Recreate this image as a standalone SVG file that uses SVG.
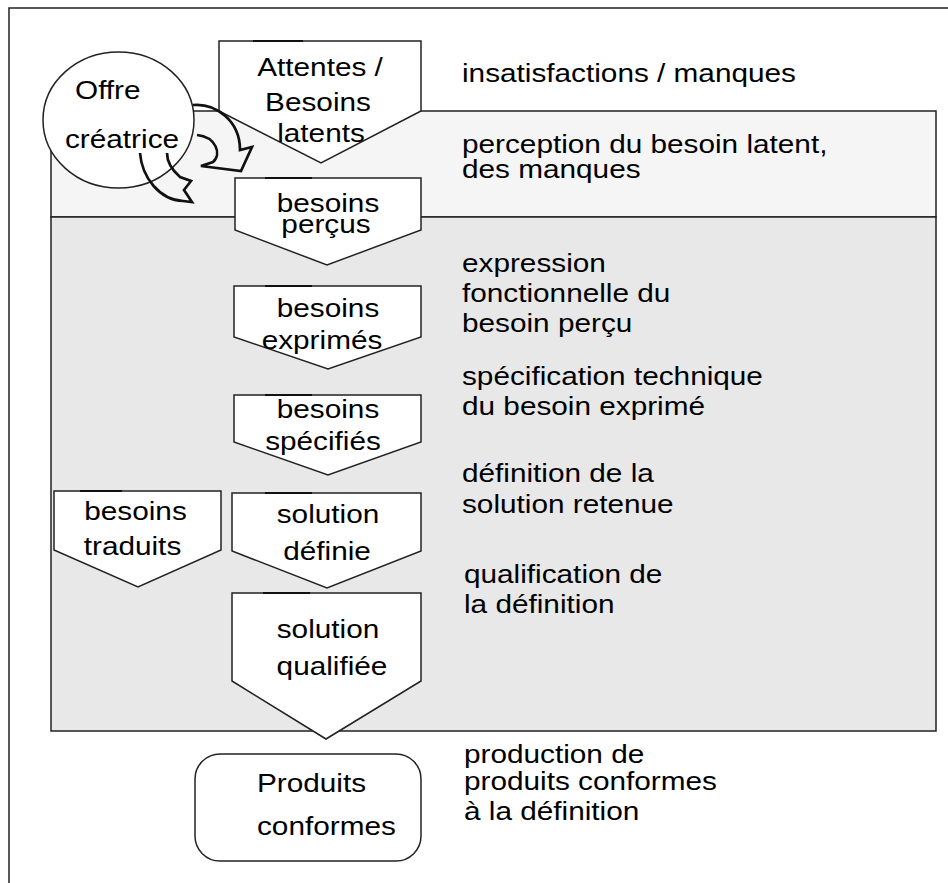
<svg xmlns="http://www.w3.org/2000/svg" width="948" height="883" viewBox="0 0 948 883">
<style>
.frame{fill:#fff;stroke:#222;stroke-width:1.5}
.band1{fill:#f5f5f5;stroke:#222;stroke-width:1.5}
.band2{fill:#e8e8e8;stroke:#222;stroke-width:1.5}
.node{fill:#fff;stroke:#222;stroke-width:1.5;stroke-linejoin:miter}
.tick{stroke:#111;stroke-width:2.2}
.arrow{fill:none;stroke:#111;stroke-width:2.7;stroke-linejoin:miter}
text{font-family:"Liberation Sans",Arial,Helvetica,sans-serif;font-size:25px;fill:#000}
.c{text-anchor:middle}
</style>
<rect class="frame" x="9" y="8" width="960" height="900"/>
<g id="bands">
<rect class="band1" x="51" y="111" width="885" height="106"/>
<rect class="band2" x="51" y="217" width="885" height="514"/>
</g>
<g id="labels">
<text transform="matrix(1.19 0 0 1 462 82)">insatisfactions / manques</text>
<text transform="matrix(1.19 0 0 1 462 153)">perception du besoin latent,</text>
<text transform="matrix(1.19 0 0 1 462 178)">des manques</text>
<text transform="matrix(1.19 0 0 1 462 272)">expression</text>
<text transform="matrix(1.19 0 0 1 462 302)">fonctionnelle du</text>
<text transform="matrix(1.19 0 0 1 462 332)">besoin perçu</text>
<text transform="matrix(1.19 0 0 1 462 385)">spécification technique</text>
<text transform="matrix(1.19 0 0 1 462 415)">du besoin exprimé</text>
<text transform="matrix(1.19 0 0 1 462 482)">définition de la</text>
<text transform="matrix(1.19 0 0 1 462 513)">solution retenue</text>
<text transform="matrix(1.19 0 0 1 464 583)">qualification de</text>
<text transform="matrix(1.19 0 0 1 464 613)">la définition</text>
<text transform="matrix(1.19 0 0 1 464 763)">production de</text>
<text transform="matrix(1.19 0 0 1 464 790)">produits conformes</text>
<text transform="matrix(1.19 0 0 1 464 820)">à la définition</text>
</g>
<g id="attentes">
<polygon class="node" points="219,41 421,41 421,111 321,163 219,111"/>
<line class="tick" x1="253" y1="41" x2="303" y2="41"/>
<text class="c" transform="matrix(1.19 0 0 1 320 76)">Attentes /</text>
<text class="c" transform="matrix(1.19 0 0 1 318 111)">Besoins</text>
<text class="c" transform="matrix(1.19 0 0 1 321 142)">latents</text>
</g>
<g id="offre">
<ellipse class="node" cx="118.5" cy="120" rx="75.5" ry="68"/>
<text transform="matrix(1.19 0 0 1 75 99)">Offre</text>
<text transform="matrix(1.19 0 0 1 65 148)">créatrice</text>
</g>
<g id="percus">
<polygon class="node" points="235,178 421,178 421,230 327,265 235,230"/>
<line class="tick" x1="265" y1="178" x2="312" y2="178"/>
<text class="c" transform="matrix(1.19 0 0 1 328 212)">besoins</text>
<text class="c" transform="matrix(1.19 0 0 1 326 233)">perçus</text>
</g>
<g id="exprimes">
<polygon class="node" points="234,286 421,286 421,337 328,369 234,337"/>
<line class="tick" x1="265" y1="286" x2="312" y2="286"/>
<text class="c" transform="matrix(1.19 0 0 1 328 317)">besoins</text>
<text class="c" transform="matrix(1.19 0 0 1 322 349)">exprimés</text>
</g>
<g id="specifies">
<polygon class="node" points="234,395 421,395 421,442 328,475 234,442"/>
<line class="tick" x1="265" y1="395" x2="312" y2="395"/>
<text class="c" transform="matrix(1.19 0 0 1 328 418)">besoins</text>
<text class="c" transform="matrix(1.19 0 0 1 323 450)">spécifiés</text>
</g>
<g id="traduits">
<polygon class="node" points="54,491 221,491 221,550 138,587 54,550"/>
<line class="tick" x1="80" y1="491" x2="122" y2="491"/>
<text class="c" transform="matrix(1.19 0 0 1 135.5 520)">besoins</text>
<text class="c" transform="matrix(1.19 0 0 1 132.5 555)">traduits</text>
</g>
<g id="definie">
<polygon class="node" points="232,493 421,493 421,551 327,588 232,551"/>
<line class="tick" x1="265" y1="493" x2="312" y2="493"/>
<text class="c" transform="matrix(1.19 0 0 1 328 523)">solution</text>
<text class="c" transform="matrix(1.19 0 0 1 327 560)">définie</text>
</g>
<g id="qualifiee">
<polygon class="node" points="232,593 421,593 421,681 326,739 232,681"/>
<line class="tick" x1="263" y1="593" x2="310" y2="593"/>
<text class="c" transform="matrix(1.19 0 0 1 328 638)">solution</text>
<text class="c" transform="matrix(1.19 0 0 1 332 675)">qualifiée</text>
</g>
<g id="produits">
<rect class="node" x="195" y="754" width="226" height="107" rx="25" ry="25"/>
<text transform="matrix(1.19 0 0 1 257 792)">Produits</text>
<text transform="matrix(1.19 0 0 1 257 835)">conformes</text>
</g>
<g id="connectors">
<path class="arrow" d="M193,105 C215,103 240,120 240,150 L252,147 L241,171 L201,166 L213,162 C222,154 216,137 197,135"/>
<path class="arrow" d="M140,153 C142,178 160,200 183,201 L192,202 L184,190 L191,181 L180,177 C172,170 167,162 167,153"/>
</g>
</svg>
